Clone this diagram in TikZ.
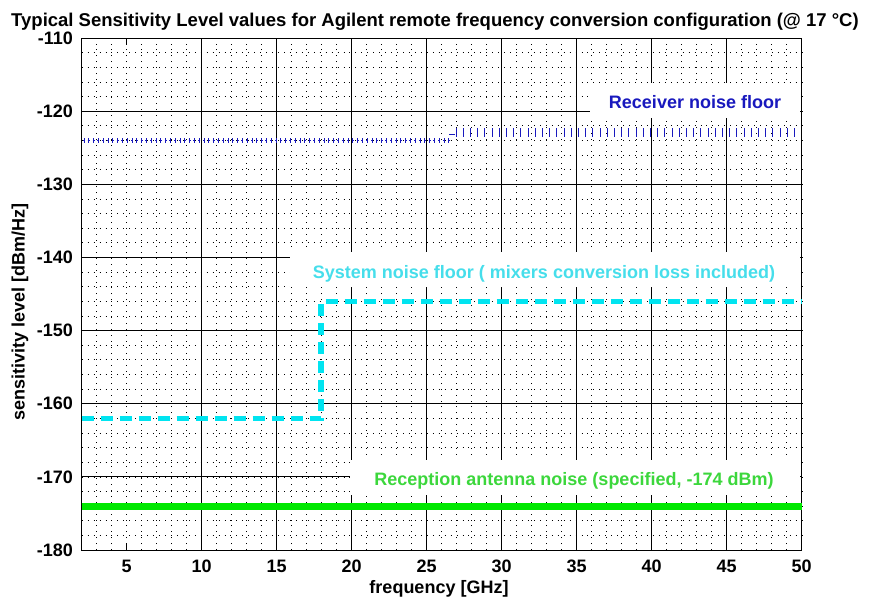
\documentclass[tikz,border=0pt]{standalone}
\usepackage{fontspec}
\setmainfont{Liberation Sans}
\definecolor{rxblue}{RGB}{25,25,190}
\definecolor{sysline}{RGB}{0,228,240}
\definecolor{systext}{RGB}{70,222,235}
\definecolor{antline}{RGB}{0,232,0}
\definecolor{anttext}{RGB}{60,215,60}
\begin{document}
\begin{tikzpicture}[x=1pt,y=1pt,
  every node/.style={font=\fontsize{18}{20}\selectfont\bfseries, inner sep=0pt},
  majorgrid/.style={black, line width=1pt},
  minorgrid/.style={black, line width=0.75pt, dash pattern=on 0.75pt off 5.2pt},
  labelmask/.style={fill=white},
  rxmark/.style={rxblue, line width=0.8pt}]
\useasboundingbox (0,0) rectangle (869,-603);

% ---- grid in data coordinates (GHz, dBm/Hz) ----
\begin{scope}[x=15pt, y=7.314pt, shift={(51.7pt,766.5pt)}]
  \foreach \f in {3,...,49} \draw[minorgrid] (\f,-180) -- (\f,-110);
  \foreach \d in {-178,-176,...,-112} \draw[minorgrid] (2,\d) -- (50,\d);
  \foreach \f in {10,15,...,45} \draw[majorgrid] (\f,-180) -- (\f,-110);
  \foreach \d in {-120,-130,...,-170} \draw[majorgrid] (2,\d) -- (50,\d);
\end{scope}

% ---- white areas behind the curve labels ----
\fill[labelmask] (590,-83) rectangle (800,-118);
\fill[labelmask] (290,-252) rectangle (800,-287);
\fill[labelmask] (350,-460) rectangle (800,-495);

% ---- axes box and the short tick at 5 GHz ----
\draw[majorgrid] (81.7,-38) rectangle (801.7,-550);
\draw[majorgrid] (126.7,-550) -- (126.7,-543);
\draw[majorgrid] (126.7,-38) -- (126.7,-45);

% ---- curves ----
\begin{scope}[x=15pt, y=7.314pt, shift={(51.7pt,766.5pt)}]
  \coordinate (a0) at (2,-174);
  \coordinate (a1) at (50,-174);
  \draw[antline, line width=7pt] (a0) -- (a1);
  \coordinate (s0) at (2,-162);
  \coordinate (s1) at (17.95,-162);
  \coordinate (s2) at (17.95,-146);
  \coordinate (s3) at (50,-146);
  \draw[sysline, line width=5.5pt, dash pattern=on 12pt off 7pt] (s0) -- (s1) -- (s2) -- (s3);
\end{scope}

% receiver noise floor: dotted trace with bar markers, stepping at about 26.7 GHz
\draw[rxmark, dash pattern=on 2pt off 2.8pt] (83,-140.7) -- (452,-140.7);
\foreach \x in {84,88.8,...,450} \draw[rxmark] (\x,-138.2) -- (\x,-143.2);
\draw[rxmark] (449,-134) -- (455,-134);
\foreach \x in {456,463.2,...,800} \draw[rxmark] (\x,-128) -- (\x,-136.5);

% ---- curve labels ----
\node[rxblue, anchor=base] (lrx) at (695,-108) {Receiver noise floor};
\node[systext, anchor=base] (lsys) at (544,-278) {System noise floor ( mixers conversion loss included)};
\node[anttext, anchor=base] (lant) at (574,-485) {Reception antenna noise (specified, -174 dBm)};

% ---- tick labels ----
\foreach \d [count=\i] in {-110,-120,-130,-140,-150,-160,-170,-180}
  \node[anchor=east] (yt\i) at (73,{-38-(\i-1)*73.14}) {\d};
\foreach \f [count=\i] in {5,10,...,50}
  \node[anchor=base] (xt\i) at ({51.7+15*\f},-572) {\f};

% ---- axis labels and title ----
\node[rotate=90] (ylab) at (20,-312) {sensitivity level [dBm/Hz]};
\node[anchor=base] (xlab) at (439,-593) {frequency [GHz]};
\node[anchor=base, font=\fontsize{18.5}{20}\selectfont\bfseries] (title) at (435,-26) {Typical Sensitivity Level values for Agilent remote frequency conversion configuration (@ 17 \textdegree C)};
\end{tikzpicture}
\end{document}
